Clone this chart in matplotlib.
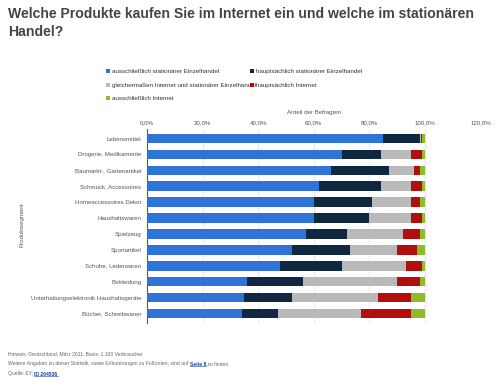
import matplotlib.pyplot as plt
import numpy as np
from matplotlib.ticker import FuncFormatter

plt.rcParams["font.family"] = ["Liberation Sans", "DejaVu Sans"]

categories = [
    "Lebensmittel", "Drogerie, Medikamente", "Baumarkt-, Gartenartikel",
    "Schmuck, Accessoires", "Homeaccessoires Dekor", "Haushaltswaren",
    "Spielzeug", "Sportartikel", "Schuhe, Lederwaren", "Bekleidung",
    "Unterhaltungselektronik Haushaltsgeräte", "Bücher, Schreibwaren",
]
series_names = [
    "ausschließlich stationärer Einzelhandel",
    "hauptsächlich stationärer Einzelhandel",
    "gleichermaßen Internet und stationärer Einzelhandel",
    "hauptsächlich Internet",
    "ausschließlich Internet",
]
only_store = [85, 70, 66, 62, 60, 60, 57, 52, 48, 36, 35, 34]
mainly_store = [13, 14, 21, 22, 21, 20, 15, 21, 22, 20, 17, 13]
equal = [0.5, 11, 9, 11, 14, 15, 20, 17, 23, 34, 31, 30]
mainly_web = [0.5, 4, 2, 4, 3, 4, 6, 7, 6, 8, 12, 18]
only_web = [1, 1, 2, 1, 2, 1, 2, 3, 1, 2, 5, 5]
colors = ["#2f73d8", "#0f2740", "#b9b9b9", "#b20e0e", "#8dbb2a"]

FS = 4.45

fig = plt.figure(figsize=(5.0, 3.83), dpi=100)
ax = fig.add_axes([147 / 500, 1 - 323 / 383, (480.7 - 147) / 500, (323 - 129) / 383])

y = np.arange(len(categories))
left = np.zeros(len(categories))
for name, vals, c in zip(series_names,
                         [only_store, mainly_store, equal, mainly_web, only_web],
                         colors):
    vals = np.array(vals, dtype=float)
    ax.barh(y, vals, left=left, height=0.6, color=c, label=name, zorder=3)
    left += vals

ax.set_xlim(0, 120)
ax.set_ylim(len(categories) - 0.4, -0.6)
ax.set_yticks(y)
ax.set_yticklabels(categories, fontsize=FS, color="#555555")
ax.set_xticks(np.arange(0, 121, 20))
ax.xaxis.set_major_formatter(FuncFormatter(lambda v, p: f"{v:.1f}%".replace(".", ",")))
ax.xaxis.tick_top()
ax.xaxis.set_label_position("top")
ax.tick_params(axis="x", labelsize=FS, colors="#555555", length=0, pad=3)
ax.tick_params(axis="y", length=0, pad=4)
ax.set_xlabel("Anteil der Befragten", fontsize=FS, color="#555555", labelpad=4)
ax.grid(axis="x", color="#bbbbbb", linestyle=":", linewidth=0.6, zorder=0)
for s in ["top", "right", "bottom"]:
    ax.spines[s].set_visible(False)
ax.spines["left"].set_color("#555555")
ax.spines["left"].set_linewidth(0.8)

fig.text(22 / 500, 1 - 225 / 383, "Produktsegment", rotation=90, fontsize=FS,
         color="#555555", ha="center", va="center")

fig.text(8 / 500, 1 - 7 / 383,
         "Welche Produkte kaufen Sie im Internet ein und welche im stationären\nHandel?",
         fontsize=10.1, fontweight="bold", color="#444444", ha="left", va="top",
         linespacing=1.35)

# legend laid out row by row like the original: two column legends
handles, labels = ax.get_legend_handles_labels()
leg_kw = dict(loc="upper left", fontsize=4.5, frameon=False, handlelength=0.7,
              handleheight=0.7, handletextpad=0.3, labelspacing=1.3,
              borderaxespad=0, borderpad=0)
for idx, x0 in [([0, 2, 4], 106), ([1, 3], 250)]:
    leg = fig.legend([handles[i] for i in idx], [labels[i] for i in idx],
                     bbox_to_anchor=(x0 / 500, 1 - 69 / 383), **leg_kw)
    for t in leg.get_texts():
        t.set_color("#333333")

FF = 3.6
foot = dict(fontsize=FF, color="#666666", va="center")
fig.text(8 / 500, 1 - 354 / 383, "Hinweis: Deutschland; März 2011; Basis: 1.100 Verbraucher", **foot)
t1 = fig.text(8 / 500, 1 - 364 / 383,
              "Weitere Angaben zu dieser Statistik, sowie Erläuterungen zu Fußnoten, sind auf ", **foot)
t2 = fig.text(0, 0, "Seite 8", fontsize=FF, color="#1a3fa8", fontweight="bold", va="center")
t3 = fig.text(0, 0, " zu finden.", **foot)
t4 = fig.text(8 / 500, 1 - 374 / 383, "Quelle: EY; ", **foot)
t5 = fig.text(0, 0, "ID 204536", fontsize=FF, color="#1a3fa8", fontweight="bold", va="center")

fig.canvas.draw()
r = fig.canvas.get_renderer()
inv = fig.transFigure.inverted()
for a, b in [(t1, t2), (t2, t3), (t4, t5)]:
    bb = a.get_window_extent(r)
    x1 = inv.transform((bb.x1, 0))[0]
    b.set_position((x1, a.get_position()[1]))
for t in (t2, t5):
    bb = t.get_window_extent(r)
    (fx0, fy0), (fx1, _) = inv.transform([(bb.x0, bb.y0 + 0.5), (bb.x1, bb.y0 + 0.5)])
    fig.add_artist(plt.Line2D([fx0, fx1], [fy0, fy0], color="#1a3fa8", linewidth=0.4))

fig.savefig("out.png", dpi=100, facecolor="white")
